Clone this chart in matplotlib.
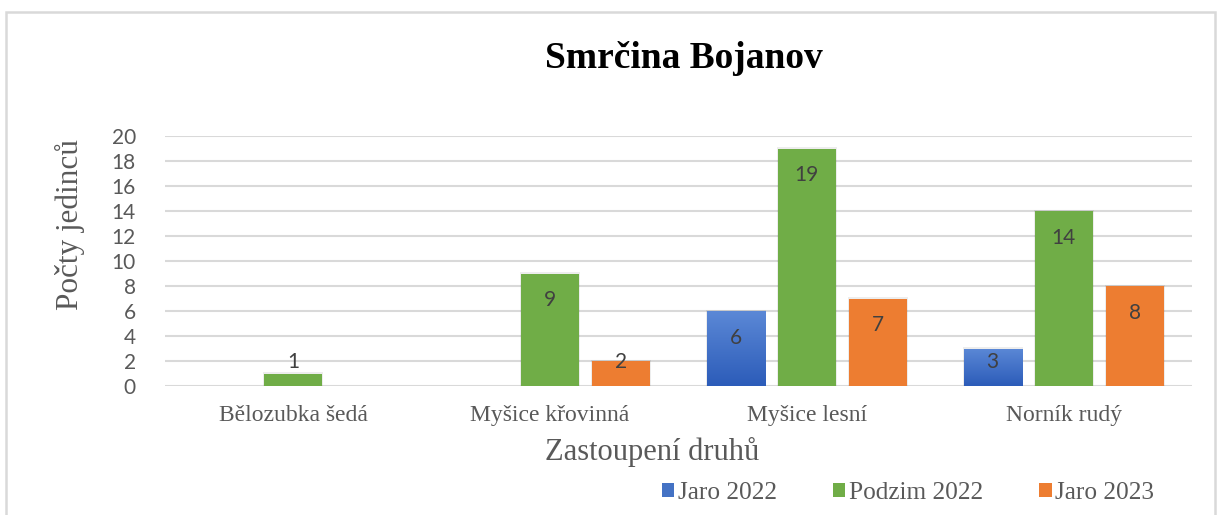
import matplotlib
matplotlib.use("Agg")
import matplotlib.pyplot as plt
import numpy as np
from matplotlib.patches import Rectangle, Patch
from matplotlib.colors import LinearSegmentedColormap

categories = ["Bělozubka šedá", "Myšice křovinná", "Myšice lesní", "Norník rudý"]
series_names = ["Jaro 2022", "Podzim 2022", "Jaro 2023"]
jaro_2022 = [0, 0, 6, 3]
podzim_2022 = [1, 9, 19, 14]
jaro_2023 = [0, 2, 7, 8]
series_values = [jaro_2022, podzim_2022, jaro_2023]
colors = ["#4472C4", "#70AD47", "#ED7D31"]
yticks = list(range(0, 21, 2))

title_text = "Smrčina Bojanov"
ylabel_text = "Počty jedinců"
xlabel_text = "Zastoupení druhů"

W, H = 1221, 515
fig = plt.figure(figsize=(W / 100, H / 100), dpi=100)
fig.patch.set_facecolor("white")

# outer frame
frame = Rectangle((6 / W, -0.05), (1215 - 6) / W, (H - 12) / H + 0.05,
                  transform=fig.transFigure, fill=False, edgecolor="#d9d9d9",
                  linewidth=1.8, zorder=0)
fig.patches.append(frame)

ax = fig.add_axes([165 / W, (H - 386) / H, 1027 / W, 250 / H])
ax.set_xlim(-0.5, len(categories) - 0.5)
ax.set_ylim(0, 20)
for s in ax.spines.values():
    s.set_visible(False)
ax.set_yticks(yticks)
ax.yaxis.grid(True, color="#d9d9d9", linewidth=1.5)
ax.set_axisbelow(True)
ax.tick_params(axis="y", length=0, pad=21, labelsize=15, labelcolor="#595959")
for lbl in ax.get_yticklabels():
    lbl.set_fontfamily("Lato")
ax.set_xticks(range(len(categories)))
ax.set_xticklabels(categories, fontfamily="Liberation Serif", fontsize=17,
                   color="#595959")
ax.tick_params(axis="x", length=0, pad=14)

bw = 0.226
step = 0.2766
x = np.arange(len(categories))
blue_cmap = LinearSegmentedColormap.from_list("b", ["#2c5cb9", "#5b88d6"])
grad = np.linspace(0, 1, 100).reshape(-1, 1)

for i, (vals, col) in enumerate(zip(series_values, colors)):
    xs = x + (i - 1) * step
    bars = ax.bar(xs, vals, width=bw, color=col, zorder=3, linewidth=0)
    for b, v in zip(bars, vals):
        if v <= 0:
            continue
        # subtle shadow
        sh = Rectangle((b.get_x() - 0.004, 0), bw + 0.008, v + 0.12,
                       facecolor="#000000", alpha=0.07, linewidth=0, zorder=2)
        ax.add_patch(sh)
        if i == 0:
            im = ax.imshow(grad, cmap=blue_cmap, aspect="auto", origin="lower",
                           extent=(b.get_x(), b.get_x() + bw, 0, v), zorder=3.5)
            im.set_clip_path(b)
        ly = max(v - 2.15, 1.9)
        ax.text(b.get_x() + bw / 2, ly, str(v), ha="center", va="center",
                fontsize=15, color="#404040", fontfamily="Lato", zorder=5)

ax.set_xlim(-0.5, len(categories) - 0.5)
ax.set_ylim(0, 20)

fig.text(683.5 / W, 1 - 58 / H, title_text, ha="center", va="center",
         fontsize=27, fontweight="bold", fontfamily="Liberation Serif", color="black")
fig.text(70 / W, 1 - 225 / H, ylabel_text, ha="center", va="center", rotation=90,
         fontsize=22.5, fontfamily="Liberation Serif", color="#595959")
fig.text(652 / W, 1 - 452 / H, xlabel_text, ha="center", va="center",
         fontsize=22, fontfamily="Liberation Serif", color="#595959")

handles = [Patch(facecolor=c, edgecolor="none") for c in colors]
leg = fig.legend(handles, series_names, loc="center", bbox_to_anchor=(908 / W, 1 - 493 / H),
                 ncol=3, frameon=False, handlelength=0.5, handleheight=0.5,
                 handletextpad=0.15, columnspacing=2.2,
                 prop={"family": "Liberation Serif", "size": 18.2})
for t in leg.get_texts():
    t.set_color("#595959")

fig.savefig("out.png", dpi=100, facecolor="white")
